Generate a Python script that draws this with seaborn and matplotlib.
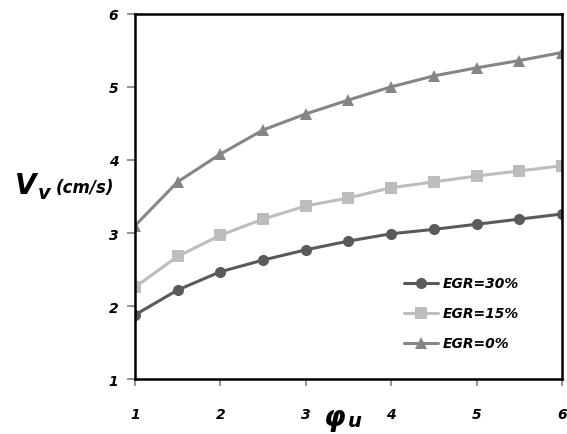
import numpy as np
import pandas as pd
import matplotlib
matplotlib.use("Agg")
import matplotlib.pyplot as plt
import seaborn as sns

phi = [1, 1.5, 2, 2.5, 3, 3.5, 4, 4.5, 5, 5.5, 6]
egr30 = [1.88, 2.22, 2.47, 2.63, 2.77, 2.89, 2.99, 3.05, 3.12, 3.19, 3.26]
egr15 = [2.26, 2.68, 2.97, 3.19, 3.37, 3.48, 3.62, 3.70, 3.78, 3.85, 3.92]
egr0 = [3.10, 3.70, 4.08, 4.41, 4.63, 4.82, 5.00, 5.15, 5.26, 5.36, 5.47]
labels = ["EGR=30%", "EGR=15%", "EGR=0%"]
ticks = [1, 2, 3, 4, 5, 6]

sns.set_style("white")
plt.rcParams['font.family'] = ['DejaVu Sans']
plt.rcParams['text.color'] = 'black'

rows = []
for lab, vals in zip(labels, [egr30, egr15, egr0]):
    for x, y in zip(phi, vals):
        rows.append({"phi": x, "V": y, "series": lab})
df = pd.DataFrame(rows)

fig = plt.figure(figsize=(5.67, 4.35), dpi=100)
ax = fig.add_axes([0.238, 0.126, 0.753, 0.840])

palette = {"EGR=30%": "#5a5a5a", "EGR=15%": "#bdbdbd", "EGR=0%": "#858585"}
markers = {"EGR=30%": "o", "EGR=15%": "s", "EGR=0%": "^"}
sns.lineplot(data=df, x="phi", y="V", hue="series", style="series",
             palette=palette, markers=markers, dashes=False, linewidth=2.2,
             markersize=8, markeredgewidth=0, ax=ax, hue_order=labels)

ax.set_xlim(1, 6)
ax.set_ylim(1, 6)
ax.set_xticks(ticks)
ax.set_yticks(ticks)
ax.set_xticklabels([str(t) for t in ticks], fontweight="bold", fontstyle="italic", fontsize=10)
ax.set_yticklabels([str(t) for t in ticks], fontweight="bold", fontstyle="italic", fontsize=10)
ax.tick_params(axis="y", which="both", left=True, length=6, width=1.2, color="#808080", pad=6, labelcolor="black")
ax.tick_params(axis="x", which="both", bottom=True, length=5, width=1.2, color="#808080", pad=15, labelcolor="black")
for s in ax.spines.values():
    s.set_color("black")
    s.set_linewidth(1.8)
ax.set_xlabel("")
ax.set_ylabel("")

fig.text(0.026, 0.572, "V", fontsize=20, fontweight="bold", fontstyle="italic", va="center", ha="left", color="black")
fig.text(0.066, 0.556, "v", fontsize=14, fontweight="bold", fontstyle="italic", va="center", ha="left", color="black")
fig.text(0.098, 0.568, "(cm/s)", fontsize=12, fontweight="bold", fontstyle="italic", va="center", ha="left", color="black")
fig.text(0.59, 0.04, "φ", fontsize=20, fontweight="bold", fontstyle="italic", va="center", ha="center", color="black")
fig.text(0.625, 0.03, "u", fontsize=14, fontweight="bold", fontstyle="italic", va="center", ha="center", color="black")

leg = ax.legend(loc="center left", bbox_to_anchor=(0.6, 0.18), frameon=False,
                prop={"weight": "bold", "style": "italic", "size": 10},
                handlelength=2.5, labelspacing=1.15, handletextpad=0.3)
for t in leg.get_texts():
    t.set_color("black")

fig.savefig("out.png", dpi=100)
